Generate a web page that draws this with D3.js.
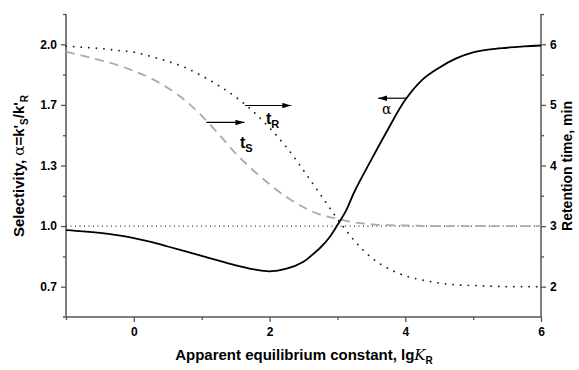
<!DOCTYPE html>
<html><head><meta charset="utf-8">
<script src="https://cdn.jsdelivr.net/npm/d3@7"></script>
<style>body{margin:0;background:#fff}svg{display:block}</style>
</head><body>
<svg id="c" width="579" height="370"></svg>
<script>
// ---- data ----
const lgK = [-1,-0.75,-0.5,-0.25,0,0.25,0.5,0.75,1,1.25,1.5,1.75,2,2.25,2.5,2.75,3,3.25,3.5,3.75,4,4.25,4.5,4.75,5,5.25,5.5,5.75,6];
const alphaX = [-1,-0.75,-0.5,-0.25,0,0.25,0.5,0.75,1,1.25,1.5,1.75,2,2.25,2.5,2.625,2.75,2.875,3,3.125,3.25,3.5,3.75,4,4.25,4.5,4.75,5,5.25,5.5,5.75,6];
const alpha = [0.980,0.974,0.966,0.955,0.941,0.922,0.899,0.876,0.853,0.829,0.806,0.787,0.776,0.789,0.824,0.857,0.894,0.941,1.005,1.075,1.17,1.339,1.543,1.725,1.824,1.884,1.93,1.96,1.975,1.983,1.99,1.994];
const tR = [5.97,5.95,5.93,5.90,5.87,5.80,5.72,5.62,5.48,5.32,5.13,4.90,4.62,4.30,3.92,3.52,3.12,2.76,2.48,2.30,2.18,2.11,2.06,2.03,2.02,2.01,2.0,2.0,2.0];
const tS = [5.88,5.81,5.74,5.66,5.56,5.44,5.28,5.08,4.82,4.52,4.20,3.93,3.69,3.48,3.31,3.19,3.12,3.06,3.03,3.015,3.01,3.005,3.0,3.0,3.0,3.0,3.0,3.0,3.0];
const xTicks = [0,2,4,6];
const xMinor = [-1,1,3,5];
const leftTicks = [0.7,1.0,1.3,1.7,2.0];
const leftMinor = [0.85,1.15,1.5,1.85,2.15];
const rightTicks = [2,3,4,5,6];
const rightMinor = [2.5,3.5,4.5,5.5,6.5];

// ---- layout ----
const X0=66, X1=541, Y0=14, Y1=317;
const svg = d3.select('#c');
const x = d3.scaleLinear().domain([-1,6]).range([X0,X1]);
const yR = d3.scaleLinear().domain([1.5,6.5]).range([Y1,Y0]);
const yL = d3.scaleLinear().domain(leftTicks).range(rightTicks.map(yR));

const axisCol = '#555';
const tickFont = 'Arial, "Liberation Sans", sans-serif';

function styleAxis(g){
  g.select('.domain').remove();
  g.selectAll('line').attr('stroke',axisCol).attr('stroke-width',1.3);
  g.selectAll('text').attr('font-family',tickFont).attr('font-weight','bold').attr('font-size',12).attr('fill','#000');
}

// axis lines
svg.append('line').attr('x1',X0).attr('x2',X0).attr('y1',Y0).attr('y2',Y1).attr('stroke',axisCol).attr('stroke-width',1.5);
svg.append('line').attr('x1',X1).attr('x2',X1).attr('y1',Y0).attr('y2',Y1).attr('stroke',axisCol).attr('stroke-width',1.5);
svg.append('line').attr('x1',X0-3).attr('x2',X1).attr('y1',Y1).attr('y2',Y1).attr('stroke',axisCol).attr('stroke-width',1.5);

// x axis
svg.append('g').attr('transform',`translate(0,${Y1})`)
  .call(d3.axisBottom(x).tickValues(xTicks).tickSize(5).tickPadding(5).tickFormat(d3.format('d'))).call(styleAxis);
svg.append('g').attr('transform',`translate(0,${Y1})`)
  .call(d3.axisBottom(x).tickValues(xMinor).tickSize(3).tickFormat('')).call(styleAxis);
// left axis
svg.append('g').attr('transform',`translate(${X0},0)`)
  .call(d3.axisLeft(yL).tickValues(leftTicks).tickSize(5).tickPadding(4).tickFormat(d3.format('.1f'))).call(styleAxis);
svg.append('g').attr('transform',`translate(${X0},0)`)
  .call(d3.axisLeft(yL).tickValues(leftMinor).tickSize(3).tickFormat('')).call(styleAxis);
// right axis
svg.append('g').attr('transform',`translate(${X1},0)`)
  .call(d3.axisRight(yR).tickValues(rightTicks).tickSize(5).tickPadding(4).tickFormat(d3.format('d'))).call(styleAxis);
svg.append('g').attr('transform',`translate(${X1},0)`)
  .call(d3.axisRight(yR).tickValues(rightMinor).tickSize(3).tickFormat('')).call(styleAxis);

// reference line alpha = 1 / t = 3
svg.append('line').attr('x1',X0).attr('x2',X1).attr('y1',yL(1.0)).attr('y2',yL(1.0))
  .attr('stroke','#000').attr('stroke-width',1).attr('stroke-dasharray','1,3.5');

// curves
const idx = d3.range(lgK.length);
const idxA = d3.range(alphaX.length);
const lineR = d3.line().x(i=>x(lgK[i])).y(i=>yR(tR[i])).curve(d3.curveMonotoneX);
const lineS = d3.line().x(i=>x(lgK[i])).y(i=>yR(tS[i])).curve(d3.curveMonotoneX);
const lineA = d3.line().x(i=>x(alphaX[i])).y(i=>yL(alpha[i])).curve(d3.curveCatmullRom.alpha(0.5));

svg.append('path').attr('d',lineS(idx)).attr('fill','none').attr('stroke','#aaa').attr('stroke-width',1.8).attr('stroke-dasharray','9,6');
svg.append('path').attr('d',lineR(idx)).attr('fill','none').attr('stroke','#222').attr('stroke-width',1.8)
  .attr('stroke-linecap','round').attr('stroke-dasharray','0.1,7.5');
svg.append('path').attr('d',lineA(idxA)).attr('fill','none').attr('stroke','#000').attr('stroke-width',1.8);

// arrows
svg.append('defs').append('marker').attr('id','ah').attr('viewBox','0 0 10 6').attr('refX',10).attr('refY',3)
  .attr('markerWidth',9).attr('markerHeight',5.5).attr('markerUnits','userSpaceOnUse').attr('orient','auto')
  .append('path').attr('d','M0,0L10,3L0,6Z').attr('fill','#000');
function arrow(xa,ya,xb,yb){
  svg.append('line').attr('x1',xa).attr('y1',ya).attr('x2',xb).attr('y2',yb)
    .attr('stroke','#000').attr('stroke-width',1.2).attr('marker-end','url(#ah)');
}
// alpha arrow (points left, towards left axis)
arrow(x(4.02), yL(1.733), x(3.6), yL(1.733));
// tR arrow (points right)
arrow(x(1.64), yR(4.99), x(2.32), yR(4.99));
// tS arrow
arrow(x(1.07), yR(4.71), x(1.63), yR(4.71));

// curve labels
const lab = (xx,yy,main,sub)=>{
  const t = svg.append('text').attr('x',xx).attr('y',yy).attr('font-family',tickFont).attr('font-weight','bold').attr('font-size',16);
  t.append('tspan').text(main);
  t.append('tspan').attr('dy',4).attr('font-size',11).text(sub);
};
lab(266,124,'t','R');
lab(240,148,'t','S');
svg.append('text').attr('x',382).attr('y',114).attr('font-family','"DejaVu Serif", serif').attr('font-size',14).text('α');

// axis titles
const yt = svg.append('text').attr('transform','translate(24,166) rotate(-90)').attr('text-anchor','middle')
  .attr('font-family',tickFont).attr('font-weight','bold').attr('font-size',15);
yt.append('tspan').text('Selectivity, ');
yt.append('tspan').attr('font-family','"DejaVu Serif", serif').attr('font-weight','normal').text('α');
yt.append('tspan').text("=k'");
yt.append('tspan').attr('dy',4).attr('font-size',10).text('S');
yt.append('tspan').attr('dy',-4).text("/k'");
yt.append('tspan').attr('dy',4).attr('font-size',10).text('R');

svg.append('text').attr('transform','translate(572,166) rotate(-90)').attr('text-anchor','middle')
  .attr('font-family',tickFont).attr('font-weight','bold').attr('font-size',14).text('Retention time, min');

const xt = svg.append('text').attr('x',304).attr('y',360).attr('text-anchor','middle')
  .attr('font-family',tickFont).attr('font-weight','bold').attr('font-size',15);
xt.append('tspan').text('Apparent equilibrium constant, lg');
xt.append('tspan').attr('font-family','"DejaVu Serif", serif').attr('font-style','italic').attr('font-weight','normal').text('K');
xt.append('tspan').attr('dy',4).attr('font-size',10).text('R');
</script>
</body></html>
